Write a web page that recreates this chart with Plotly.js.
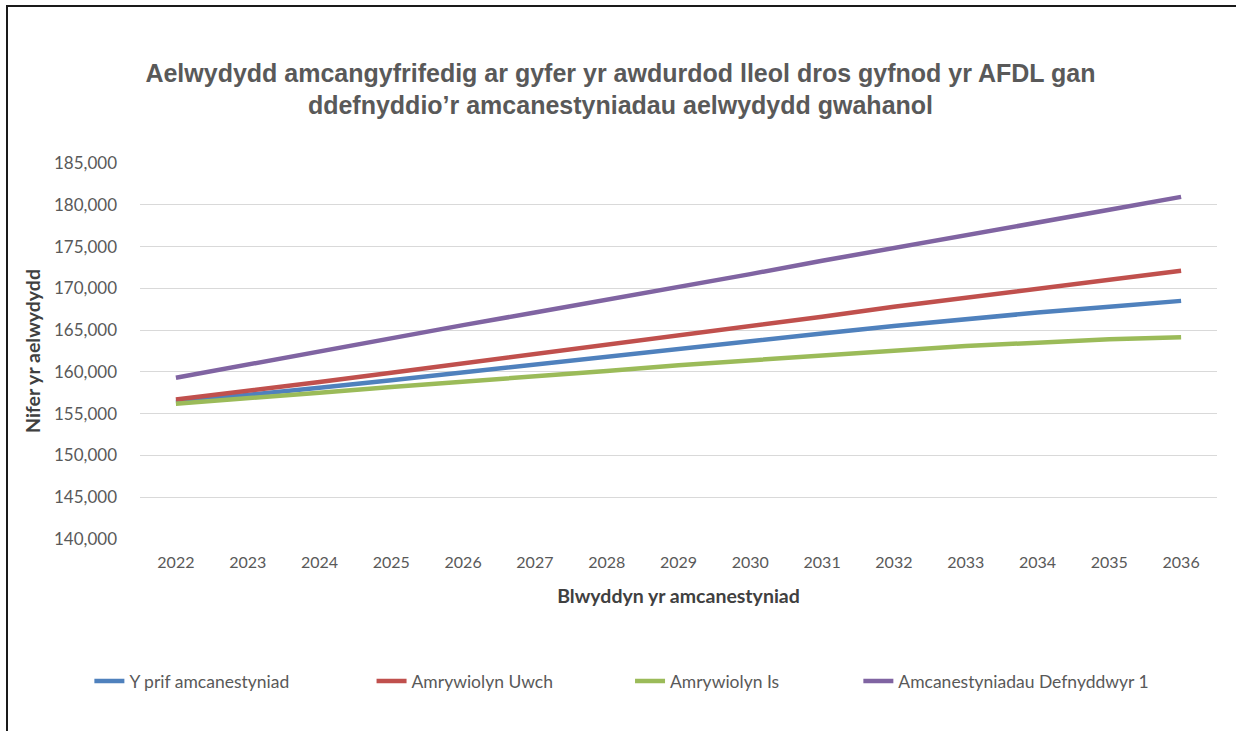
<!DOCTYPE html>
<html>
<head>
<meta charset="utf-8">
<script src="https://cdn.plot.ly/plotly-3.0.1.min.js"></script>
<style>
  html, body { margin: 0; padding: 0; background: #fff; }
  #wrap { position: relative; width: 1236px; height: 731px; overflow: hidden; }
  #chart { position: absolute; left: 0; top: 0; width: 1236px; height: 731px; }
  #frame { position: absolute; left: 6px; top: 5px; width: 1300px; height: 800px;
           border-left: 2px solid #1a1a1a; border-top: 2px solid #1a1a1a; pointer-events: none; }
</style>
</head>
<body>
<div id="wrap">
  <div id="chart"></div>
  <div id="frame"></div>
</div>
<script>
const years = ['2022','2023','2024','2025','2026','2027','2028','2029','2030','2031','2032','2033','2034','2035','2036'];
const seriesNames = ['Y prif amcanestyniad', 'Amrywiolyn Uwch', 'Amrywiolyn Is', 'Amcanestyniadau Defnyddwyr 1'];
const prifValues   = [156400, 157200, 158100, 159000, 159950, 160900, 161800, 162800, 163700, 164600, 165500, 166350, 167100, 167800, 168500];
const uwchValues   = [156700, 157700, 158800, 159900, 161000, 162100, 163200, 164400, 165500, 166600, 167800, 168900, 170000, 171100, 172100];
const isValues     = [156200, 156800, 157500, 158200, 158800, 159500, 160100, 160800, 161400, 162000, 162600, 163100, 163500, 163900, 164150];
const defnValues   = [159300, 160900, 162500, 164000, 165600, 167100, 168600, 170200, 171700, 173300, 174800, 176400, 177900, 179400, 180950];
const yTickVals = [140000,145000,150000,155000,160000,165000,170000,175000,180000,185000];

const colors = ['#4F81BD', '#C0504D', '#9BBB59', '#8064A2'];
const allValues = [prifValues, uwchValues, isValues, defnValues];
const legendIds = ['legend', 'legend2', 'legend3', 'legend4'];

const traces = allValues.map((vals, i) => ({
  type: 'scatter', mode: 'lines', x: years, y: vals, name: seriesNames[i],
  line: { color: colors[i], width: 4.5 },
  legend: legendIds[i]
}));

const legendFont = { family: 'Lato, "Open Sans", sans-serif', size: 17.5, color: '#595959' };
const legendX = [-0.047, 0.215, 0.455, 0.667];
function legendDef(x) {
  return { x: x, y: -0.378, xanchor: 'left', yanchor: 'middle', orientation: 'h',
           font: legendFont, bgcolor: 'rgba(0,0,0,0)', itemwidth: 30, tracegroupgap: 0 };
}

const layout = {
  width: 1236, height: 731,
  margin: { l: 140, r: 19, t: 163, b: 192 },
  paper_bgcolor: '#ffffff', plot_bgcolor: '#ffffff',
  title: {
    text: 'Aelwydydd amcangyfrifedig ar gyfer yr awdurdod lleol dros gyfnod yr AFDL gan<br>ddefnyddio’r amcanestyniadau aelwydydd gwahanol',
    font: { family: '"Liberation Sans", Arial, sans-serif', size: 25, color: '#595959', weight: 'bold' },
    x: 0.502, xanchor: 'center', y: 0.888, yanchor: 'middle'
  },
  xaxis: {
    type: 'category', range: [-0.5, 14.5],
    showgrid: false, zeroline: false, showline: false, ticks: '',
    ticklabelstandoff: 12,
    tickfont: { family: 'Lato, "Open Sans", sans-serif', size: 16, color: '#595959' },
    title: { text: 'Blwyddyn yr amcanestyniad', standoff: 19,
             font: { family: 'Lato, "Open Sans", sans-serif', size: 19.5, color: '#404040', weight: 'bold' } },
    fixedrange: true
  },
  yaxis: {
    range: [140000, 185000], tickvals: yTickVals, tickformat: ',d',
    showgrid: true, gridcolor: '#D9D9D9', gridwidth: 1, zeroline: false, showline: false, ticks: '',
    ticklabelstandoff: 22,
    tickfont: { family: 'Lato, "Open Sans", sans-serif', size: 17, color: '#595959' },
    title: { text: 'Nifer yr aelwydydd', standoff: 8,
             font: { family: 'Lato, "Open Sans", sans-serif', size: 19.5, color: '#404040', weight: 'bold' } },
    fixedrange: true
  },
  showlegend: true,
  legend: legendDef(legendX[0]),
  legend2: legendDef(legendX[1]),
  legend3: legendDef(legendX[2]),
  legend4: legendDef(legendX[3])
};

Plotly.newPlot('chart', traces, layout, { displayModeBar: false, staticPlot: true });
</script>
</body>
</html>
